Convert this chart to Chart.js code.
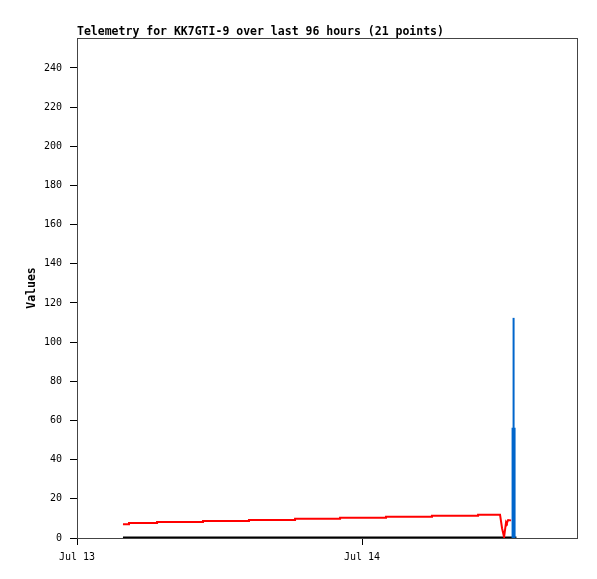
<!DOCTYPE html>
<html>
<head>
<meta charset="utf-8">
<script src="https://cdn.jsdelivr.net/npm/chart.js@4/dist/chart.umd.min.js"></script>
<style>
  body { margin: 0; background: #fff; }
  canvas { display: block; }
</style>
</head>
<body>
<canvas id="telemetryChart" width="597" height="579"></canvas>
<script>
// hours since Jul 13 00:00
const redHours  = [3.87, 4.38, 4.38, 6.74, 6.74, 10.61, 10.61, 14.48, 14.48, 18.36, 18.36, 22.15, 22.15, 26.02, 26.02, 29.89, 29.89, 33.77, 33.77, 35.62, 35.79, 35.96, 36.13, 36.2, 36.3, 36.55];
const redValues = [7.0, 7.0, 7.7, 7.7, 8.2, 8.2, 8.7, 8.7, 9.2, 9.2, 9.8, 9.8, 10.3, 10.3, 10.8, 10.8, 11.3, 11.3, 11.9, 11.9, 5.0, 0.5, 8.2, 7.6, 9.2, 9.0];

const blackHours  = [3.87, 37.0];
const blackValues = [0, 0];

const blueHours      = [36.76, 36.76];
const blueValues     = [0, 56.3];
const bluePeakHours  = [36.76, 36.76];
const bluePeakValues = [0, 112.4];

const xTickHours  = [0, 24];
const xTickLabels = ["Jul 13", "Jul 14"];
const yTicks = [0, 20, 40, 60, 80, 100, 120, 140, 160, 180, 200, 220, 240];

const chartTitle = "Telemetry for KK7GTI-9 over last 96 hours (21 points)";

const toPoints = (xs, ys) => xs.map((x, i) => ({ x: x, y: ys[i] }));

const frameAndTitle = {
    id: "frameAndTitle",
    beforeDatasetsDraw(chart) {
        const { ctx, chartArea } = chart;
        ctx.save();
        ctx.strokeStyle = "#444";
        ctx.lineWidth = 1;
        ctx.strokeRect(chartArea.left + 0.5, chartArea.top + 0.5, chartArea.right - chartArea.left, chartArea.bottom - chartArea.top);
        ctx.restore();
    },
    afterDraw(chart) {
        const { ctx, chartArea } = chart;
        ctx.save();
        ctx.fillStyle = "#000";
        ctx.font = "bold 11.5px 'DejaVu Sans Mono'";
        ctx.textBaseline = "alphabetic";
        ctx.fillText(chartTitle, chartArea.left, 35);
        ctx.restore();
    }
};

const ctx = document.getElementById("telemetryChart").getContext("2d");

new Chart(ctx, {
    type: "line",
    data: {
        datasets: [
            {
                label: "blue peak",
                data: toPoints(bluePeakHours, bluePeakValues),
                borderColor: "#0066cc",
                borderWidth: 2,
                pointRadius: 0
            },
            {
                label: "blue",
                data: toPoints(blueHours, blueValues),
                borderColor: "#0066cc",
                borderWidth: 4,
                pointRadius: 0
            },
            {
                label: "red",
                data: toPoints(redHours, redValues),
                borderColor: "#ff0000",
                borderWidth: 2,
                pointRadius: 0,
                tension: 0
            },
            {
                label: "black",
                data: toPoints(blackHours, blackValues),
                borderColor: "#000000",
                borderWidth: 3,
                pointRadius: 0
            }
        ]
    },
    options: {
        responsive: false,
        animation: false,
        layout: { padding: { left: 0, top: 38, right: 20, bottom: 0 } },
        plugins: {
            legend: { display: false },
            tooltip: { enabled: false }
        },
        scales: {
            x: {
                type: "linear",
                min: 0,
                max: 42.1,
                afterBuildTicks: scale => { scale.ticks = xTickHours.map(v => ({ value: v })); },
                afterFit: scale => { scale.height = 41; },
                border: { color: "#000", width: 1 },
                grid: { drawOnChartArea: false, tickLength: 7, color: "#000" },
                ticks: {
                    color: "#000",
                    padding: 6,
                    maxRotation: 0,
                    font: { family: "'DejaVu Sans Mono'", size: 10 },
                    callback: value => xTickLabels[xTickHours.indexOf(value)]
                }
            },
            y: {
                min: 0,
                max: 255.3,
                afterBuildTicks: scale => { scale.ticks = yTicks.map(v => ({ value: v })); },
                afterFit: scale => { scale.width = 77; },
                border: { color: "#000", width: 1 },
                grid: { drawOnChartArea: false, tickLength: 7, color: "#000" },
                ticks: {
                    color: "#000",
                    padding: 8,
                    font: { family: "'DejaVu Sans Mono'", size: 10 }
                },
                title: {
                    display: true,
                    text: "Values",
                    color: "#000",
                    padding: { top: 25, bottom: 0 },
                    font: { family: "'DejaVu Sans Mono'", size: 11.5, weight: "bold" }
                }
            }
        }
    },
    plugins: [frameAndTitle]
});
</script>
</body>
</html>
